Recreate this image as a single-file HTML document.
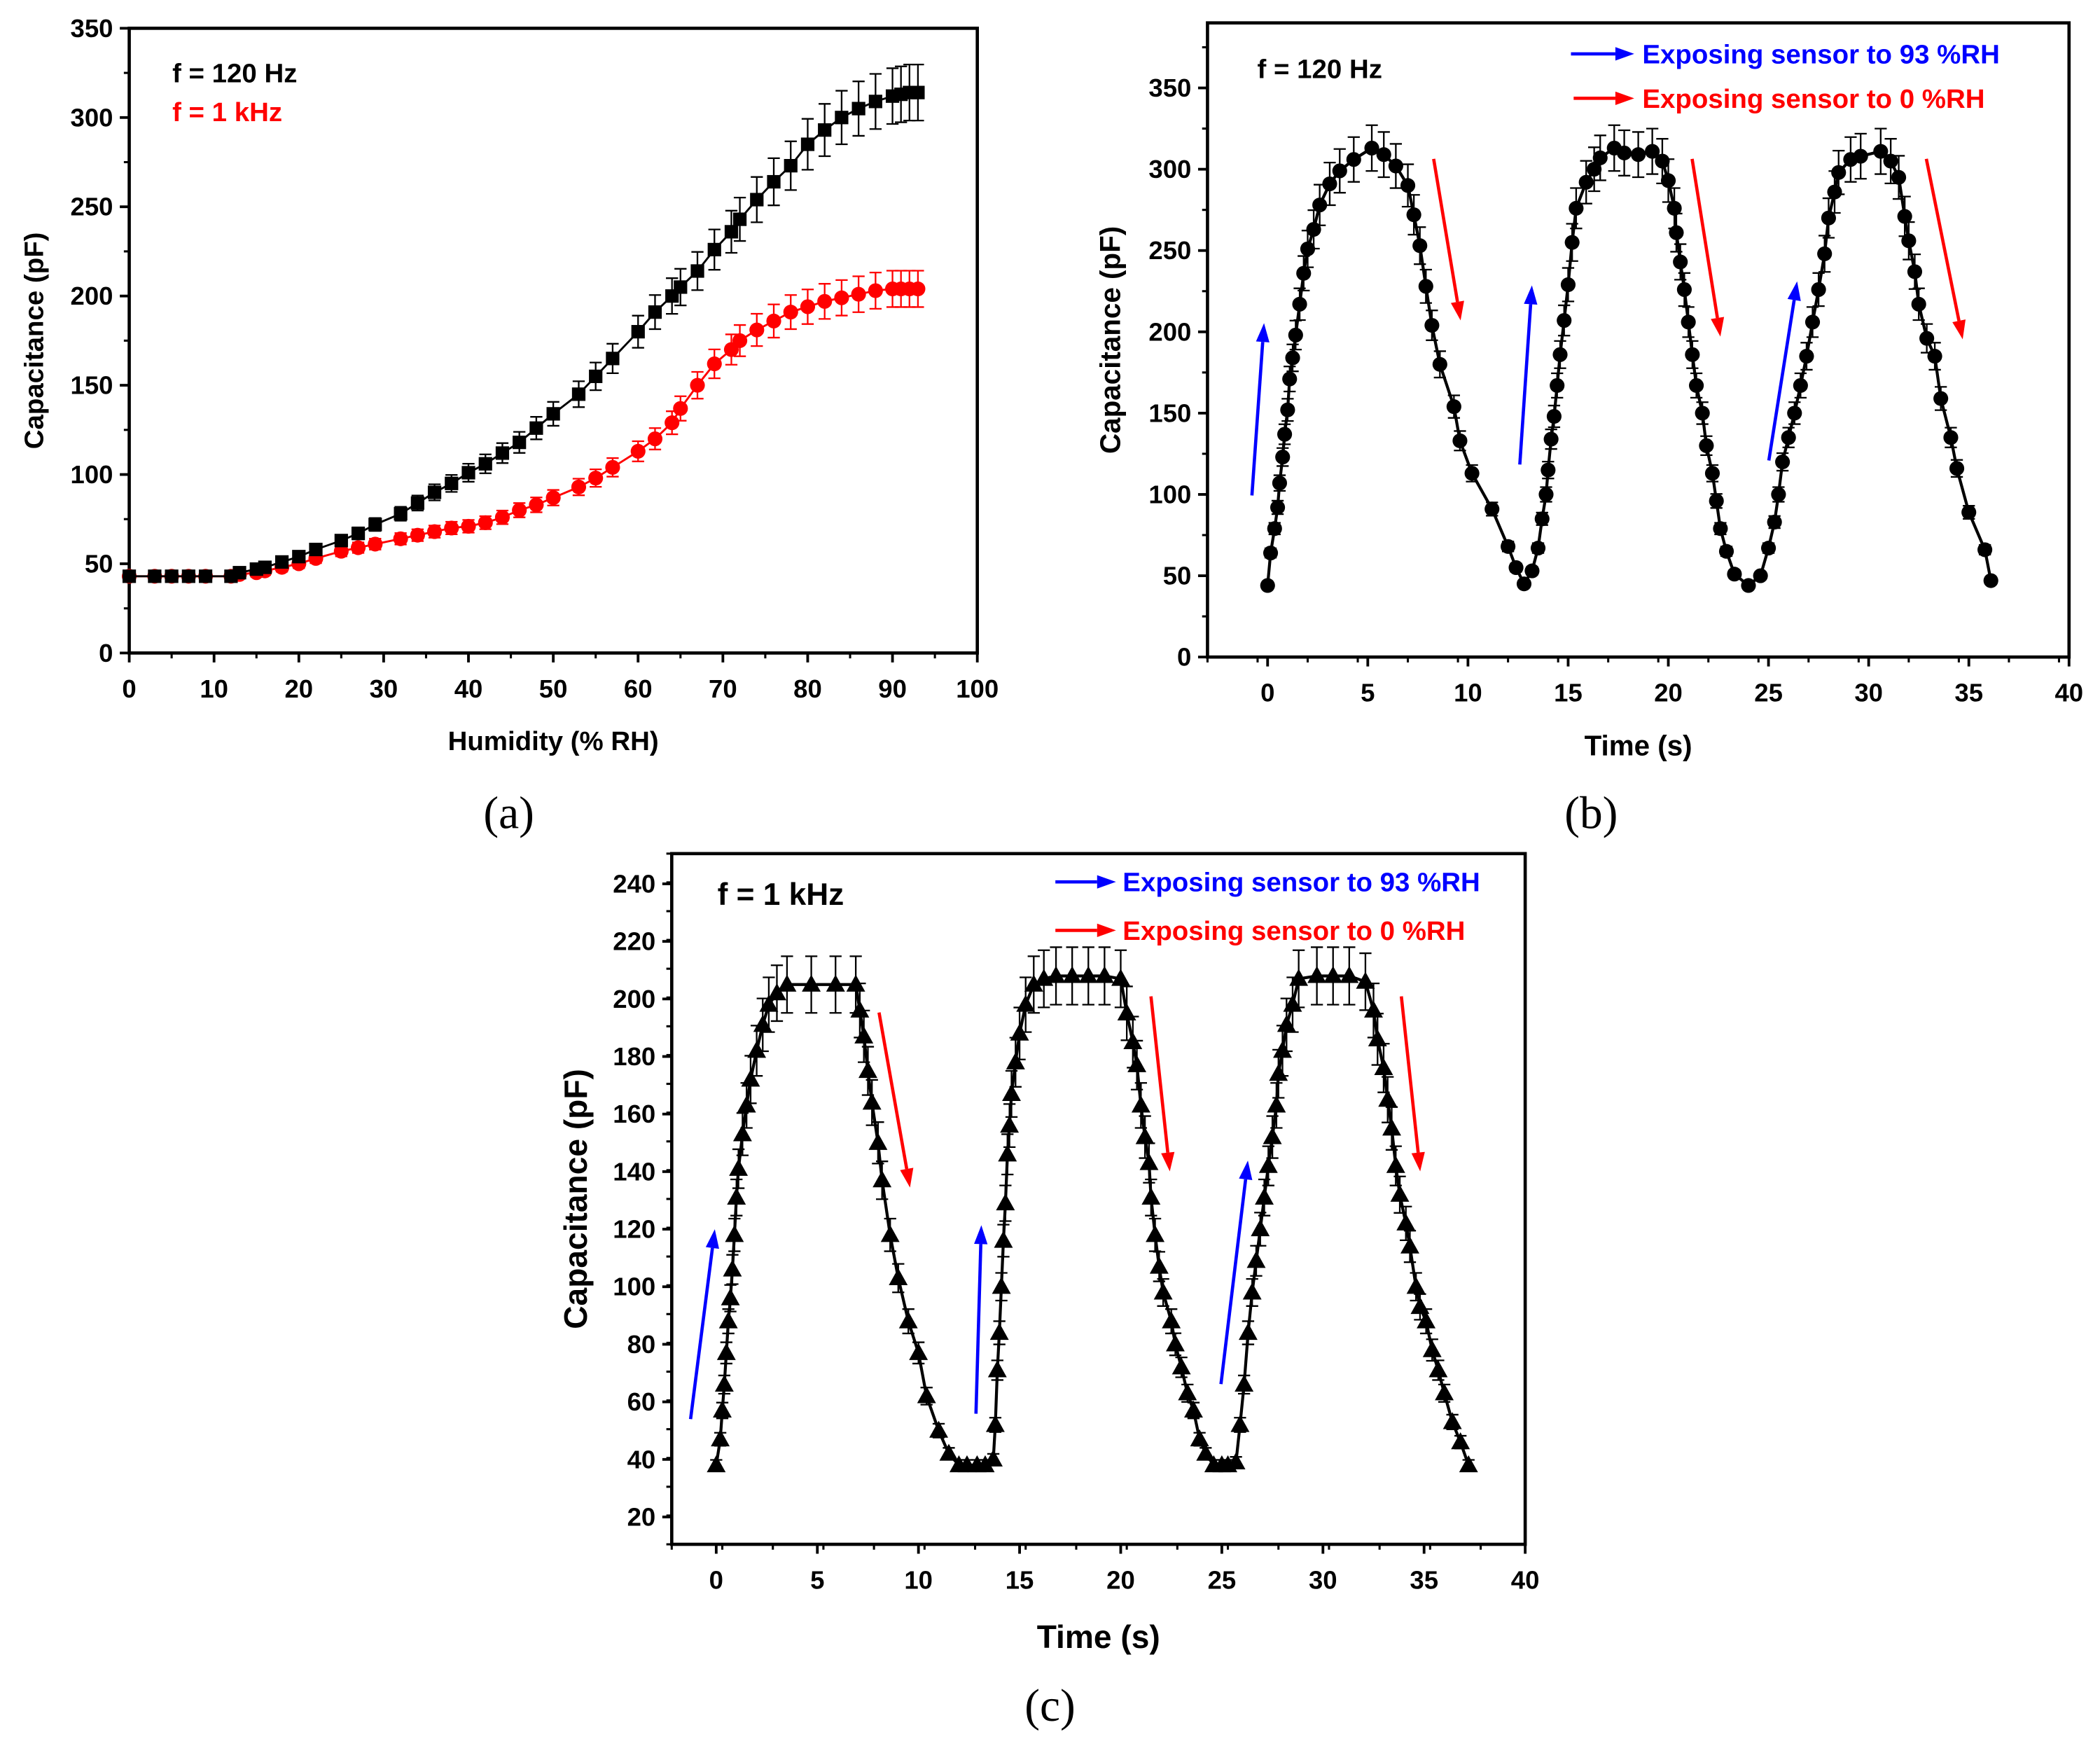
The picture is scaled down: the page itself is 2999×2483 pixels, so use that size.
<!DOCTYPE html>
<html><head><meta charset="utf-8"><style>
html,body{margin:0;padding:0;background:#fff}
svg{display:block}
text{font-family:"Liberation Sans",Arial,sans-serif;font-weight:bold}
</style></head><body>
<svg id="fig" width="2999" height="2483" viewBox="0 0 1560 1291.6" xmlns="http://www.w3.org/2000/svg">
<rect x="0" y="0" width="1560" height="1291.6" fill="#fff"/>
<text x="378" y="615" font-size="34" text-anchor="middle" style="font-family:'Liberation Serif',serif;font-weight:normal">(a)</text>
<text x="1182" y="615" font-size="34" text-anchor="middle" style="font-family:'Liberation Serif',serif;font-weight:normal">(b)</text>
<text x="780" y="1278" font-size="34" text-anchor="middle" style="font-family:'Liberation Serif',serif;font-weight:normal">(c)</text>
</svg>
<script>
// ---- Panel (a) data ----
const humA = [0,3,5,7,9,12,13,15,16,18,20,22,25,27,29,32,34,36,38,40,42,44,46,48,50,53,55,57,60,62,64,65,67,69,71,72,74,76,78,80,82,84,86,88,90,91,92,93];
const cap120 = [43,43,43,43,43,43,45,47,48,51,54,58,63,67,72,78,84,90,95,101,106,112,118,126,134,145,155,165,180,191,200,205,214,226,236,243,254,264,273,285,293,300,305,309,312,313,314,314];
const cap1k = [43,43,43,43,43,43,44,45,46,48,50,53,57,59,61,64,66,68,70,71,73,76,80,83,87,93,98,104,113,120,129,137,150,162,170,175,181,186,191,194,197,199,201,203,204,204,204,204];
const ticksAx = [0,10,20,30,40,50,60,70,80,90,100];
const ticksAy = [0,50,100,150,200,250,300,350];
// ---- Panel (b) data ----
const timeB = [0,0.15,0.35,0.5,0.6,0.75,0.85,1.0,1.1,1.25,1.4,1.6,1.8,2.0,2.3,2.6,3.1,3.6,4.3,5.2,5.8,6.4,7.0,7.3,7.6,7.9,8.2,8.6,9.3,9.6,10.2,11.2,12.0,12.4,12.8,13.2,
 13.5,13.7,13.9,14.0,14.15,14.3,14.45,14.6,14.8,15.0,15.2,15.4,15.9,16.3,16.6,17.3,17.8,18.5,19.2,19.7,20.0,20.3,20.4,20.6,20.8,21.0,21.2,21.4,21.7,21.9,22.2,22.4,22.6,22.9,23.3,24.0,24.6,
 25.0,25.3,25.5,25.7,26.0,26.3,26.6,26.9,27.2,27.5,27.8,28.0,28.3,28.5,29.1,29.6,30.6,31.1,31.5,31.8,32.0,32.3,32.5,32.9,33.3,33.6,34.1,34.4,35.0,35.8,36.1];
const capB = [44,64,79,92,107,123,137,152,171,184,198,217,236,251,263,278,291,299,306,313,309,302,290,272,253,228,204,180,154,133,113,91,68,55,45,53,
 67,85,100,115,134,148,167,186,207,229,255,276,292,300,307,313,310,309,311,305,293,276,261,243,226,206,186,167,150,130,113,96,79,65,51,44,50,
 67,83,100,120,135,150,167,185,206,226,248,270,286,298,306,308,311,305,295,271,256,237,217,196,185,159,135,116,89,66,47];
const ticksBx = [0,5,10,15,20,25,30,35,40];
const ticksBy = [0,50,100,150,200,250,300,350];
// ---- Panel (c) data ----
const timeC = [0,0.2,0.3,0.4,0.5,0.6,0.7,0.8,0.9,1.0,1.1,1.3,1.5,1.7,2.0,2.3,2.6,3.0,3.5,4.7,5.9,6.9,7.1,7.3,7.5,7.7,8.0,8.2,8.6,9.0,9.5,10.0,10.4,11.0,11.5,12.0,12.4,12.9,13.3,13.7,
 13.8,13.9,14.0,14.1,14.2,14.3,14.4,14.5,14.6,14.8,15.0,15.3,15.7,16.2,16.8,17.6,18.4,19.2,20.0,20.3,20.6,20.8,21.0,21.2,21.4,21.5,21.7,21.9,22.1,22.5,22.7,23.0,23.3,23.6,23.9,24.2,24.6,25.0,25.3,25.7,25.9,
 26.1,26.3,26.5,26.7,26.9,27.1,27.3,27.5,27.7,27.8,28.0,28.2,28.5,28.8,29.7,30.5,31.3,32.1,32.5,32.7,33.0,33.2,33.4,33.6,33.8,34.1,34.3,34.6,34.8,35.1,35.4,35.7,36.0,36.4,36.8,37.2];
const capC = [38,47,57,66,77,88,96,106,118,131,141,153,163,172,182,191,198,202,205,205,205,205,196,187,175,164,150,137,118,103,88,77,62,50,42,38,38,38,38,40,
 52,71,84,100,116,129,146,156,167,178,188,198,205,207,208,208,208,208,207,195,185,177,163,152,143,131,118,107,98,88,80,72,63,57,47,42,38,38,38,39,52,
 66,84,98,109,120,131,142,152,163,174,182,191,198,207,208,208,208,206,196,186,176,165,155,142,132,122,114,100,93,88,78,71,63,53,46,38];
const ticksCx = [0,5,10,15,20,25,30,35,40];
const ticksCy = [20,40,60,80,100,120,140,160,180,200,220,240];
const errFracA = 0.05, errFracB = 0.045, errFracC = 0.048;

const NS = "http://www.w3.org/2000/svg";
const svg = document.getElementById('fig');
function mk(tag, attrs, parent){ const e=document.createElementNS(NS,tag); for(const k in attrs) e.setAttribute(k,attrs[k]); (parent||svg).appendChild(e); return e; }

function axes(p){
  const g = mk('g',{});
  
  
  const box = mk('rect',{x:p.x0,y:p.y0,width:p.x1-p.x0,height:p.y1-p.y0,fill:'none',stroke:'#000','stroke-width':2.4},g);
  
  
  const sx=v=>p.x0+(v-p.xmin)/(p.xmax-p.xmin)*(p.x1-p.x0);
  const sy=v=>p.y1-(v-p.ymin)/(p.ymax-p.ymin)*(p.y1-p.y0);
  p.xt.forEach(v=>{ const X=sx(v); mk('line',{x1:X,x2:X,y1:p.y1,y2:p.y1+7,stroke:'#000','stroke-width':2},g);
    const t=mk('text',{x:X,y:p.y1+33,'font-size':p.fs,'text-anchor':'middle'},g); t.textContent=v;
    
     });
  for(let v=p.xmin; v<=p.xmax+1e-9; v+=p.xminor){ const X=sx(v); if(X>=p.x0-0.5&&X<=p.x1+0.5) mk('line',{x1:X,x2:X,y1:p.y1,y2:p.y1+4,stroke:'#000','stroke-width':1.6},g);}
  p.yt.forEach(v=>{ const Y=sy(v); mk('line',{x1:p.x0-7,x2:p.x0,y1:Y,y2:Y,stroke:'#000','stroke-width':2},g);
    const t=mk('text',{x:p.x0-12,y:Y+6.5,'font-size':p.fs,'text-anchor':'end'},g); t.textContent=v;
    
     });
  for(let v=p.ymin; v<=p.ymax+1e-9; v+=p.yminor){ const Y=sy(v); if(Y>=p.y0-0.5&&Y<=p.y1+0.5) mk('line',{x1:p.x0-4,x2:p.x0,y1:Y,y2:Y,stroke:'#000','stroke-width':1.6},g);}
  const xt=mk('text',{x:(p.x0+p.x1)/2,y:p.xty,'font-size':p.tfs,'text-anchor':'middle'},g); xt.textContent=p.xtitle;
  
  
  const ytx=p.ytx, yty=(p.y0+p.y1)/2;
  const yt=mk('text',{x:ytx,y:yty,'font-size':p.tfs,'text-anchor':'middle',transform:`rotate(-90 ${ytx} ${yty})`},g); yt.textContent='Capacitance (pF)';
  
  
  return {sx,sy};
}

function series(s, xs, ys, frac, color, marker, ms, name, lw){
  const g = mk('g',{});
  
  
  let d='';
  xs.forEach((x,i)=>{ d+=(i?'L':'M')+s.sx(x).toFixed(2)+','+s.sy(ys[i]).toFixed(2); });
  mk('path',{d,fill:'none',stroke:color,'stroke-width':lw,'stroke-linejoin':'round'},g);
  xs.forEach((x,i)=>{ const X=s.sx(x), e=ys[i]*frac, Ya=s.sy(ys[i]+e), Yb=s.sy(ys[i]-e);
    mk('path',{d:`M${X},${Ya}L${X},${Yb}M${X-4.5},${Ya}L${X+4.5},${Ya}M${X-4.5},${Yb}L${X+4.5},${Yb}`,stroke:color,'stroke-width':1.2,fill:'none'},g); });
  xs.forEach((x,i)=>{ const X=s.sx(x), Y=s.sy(ys[i]); let m;
    if(marker==='sq') m=mk('rect',{x:X-ms,y:Y-ms,width:2*ms,height:2*ms,fill:color},g);
    else if(marker==='ci') m=mk('circle',{cx:X,cy:Y,r:ms,fill:color},g);
    else m=mk('path',{d:`M${X},${Y-ms*1.05}L${X+ms},${Y+ms*0.75}L${X-ms},${Y+ms*0.75}Z`,fill:color},g);
    
     });
}
function arrow(x1,y1,x2,y2,color,name){
  const g=mk('g',{});
  
  
  const a=Math.atan2(y2-y1,x2-x1), L=14, W=5;
  const bx=x2-L*Math.cos(a), by=y2-L*Math.sin(a);
  mk('line',{x1,y1,x2:bx,y2:by,stroke:color,'stroke-width':2.4},g);
  mk('path',{d:`M${x2},${y2}L${bx-W*Math.sin(a)},${by+W*Math.cos(a)}L${bx+W*Math.sin(a)},${by-W*Math.cos(a)}Z`,fill:color},g);
}
function label(x,y,txt,color,fs,name){ const t=mk('text',{x,y,'font-size':fs,fill:color}); t.textContent=txt;
  
   }

// Panel a
const A = axes({name:'panel-a',x0:96,x1:726,y0:21,y1:485,xmin:0,xmax:100,ymin:0,ymax:350,xt:ticksAx,yt:ticksAy,xminor:5,yminor:25,fs:19,tfs:20,xtitle:'Humidity (% RH)',xty:557,ytx:32});
series(A, humA, cap1k, errFracA, '#ff0000','ci',5.5,'series-1khz',1.5);
series(A, humA, cap120, errFracA, '#000','sq',5,'series-120hz',1.5);
label(128,61,'f = 120 Hz','#000',20,'legend-120hz');
label(128,90,'f = 1 kHz','#ff0000',20,'legend-1khz');

// Panel b
const B = axes({name:'panel-b',x0:897,x1:1537,y0:17,y1:488,xmin:-3,xmax:40,ymin:0,ymax:390,xt:ticksBx,yt:ticksBy,xminor:2.5,yminor:25,fs:19,tfs:21,xtitle:'Time (s)',xty:561,ytx:832});
series(B, timeB, capB, errFracB, '#000','ci',5.5,'series-120hz-time',2.2);
label(934,58,'f = 120 Hz','#000',20,'panel-b-freq-label');
arrow(1167,40,1214,40,'#0000ff','legend-arrow-blue'); label(1220,47,'Exposing sensor to 93 %RH','#0000ff',20,'legend-humid');
arrow(1169,73,1214,73,'#ff0000','legend-arrow-red'); label(1220,80,'Exposing sensor to 0 %RH','#ff0000',20,'legend-dry');
arrow(930,368,939,240,'#0000ff','arrow-up-1'); arrow(1129,345,1138,212,'#0000ff','arrow-up-2'); arrow(1314,342,1335,209,'#0000ff','arrow-up-3');
arrow(1065,118,1085,238,'#ff0000','arrow-down-1'); arrow(1257,118,1278,250,'#ff0000','arrow-down-2'); arrow(1431,118,1458,252,'#ff0000','arrow-down-3');

// Panel c
const C = axes({name:'panel-c',x0:499,x1:1133,y0:634,y1:1147,xmin:-2.2,xmax:40,ymin:10.5,ymax:250.5,xt:ticksCx,yt:ticksCy,xminor:2.5,yminor:10,fs:19,tfs:24,xtitle:'Time (s)',xty:1224,ytx:436});
series(C, timeC, capC, errFracC, '#000','tri',7,'series-1khz-time',2.2);
label(533,672,'f = 1 kHz','#000',23,'panel-c-freq-label');
arrow(784,655,829,655,'#0000ff','legend-arrow-blue-c'); label(834,662,'Exposing sensor to 93 %RH','#0000ff',20,'legend-humid-c');
arrow(784,691,829,691,'#ff0000','legend-arrow-red-c'); label(834,698,'Exposing sensor to 0 %RH','#ff0000',20,'legend-dry-c');
arrow(513,1054,531,913,'#0000ff','arrow-up-c1'); arrow(725,1050,729,910,'#0000ff','arrow-up-c2'); arrow(907,1028,927,862,'#0000ff','arrow-up-c3');
arrow(653,752,676,882,'#ff0000','arrow-down-c1'); arrow(855,740,869,870,'#ff0000','arrow-down-c2'); arrow(1041,740,1055,870,'#ff0000','arrow-down-c3');
</script>
</body></html>
